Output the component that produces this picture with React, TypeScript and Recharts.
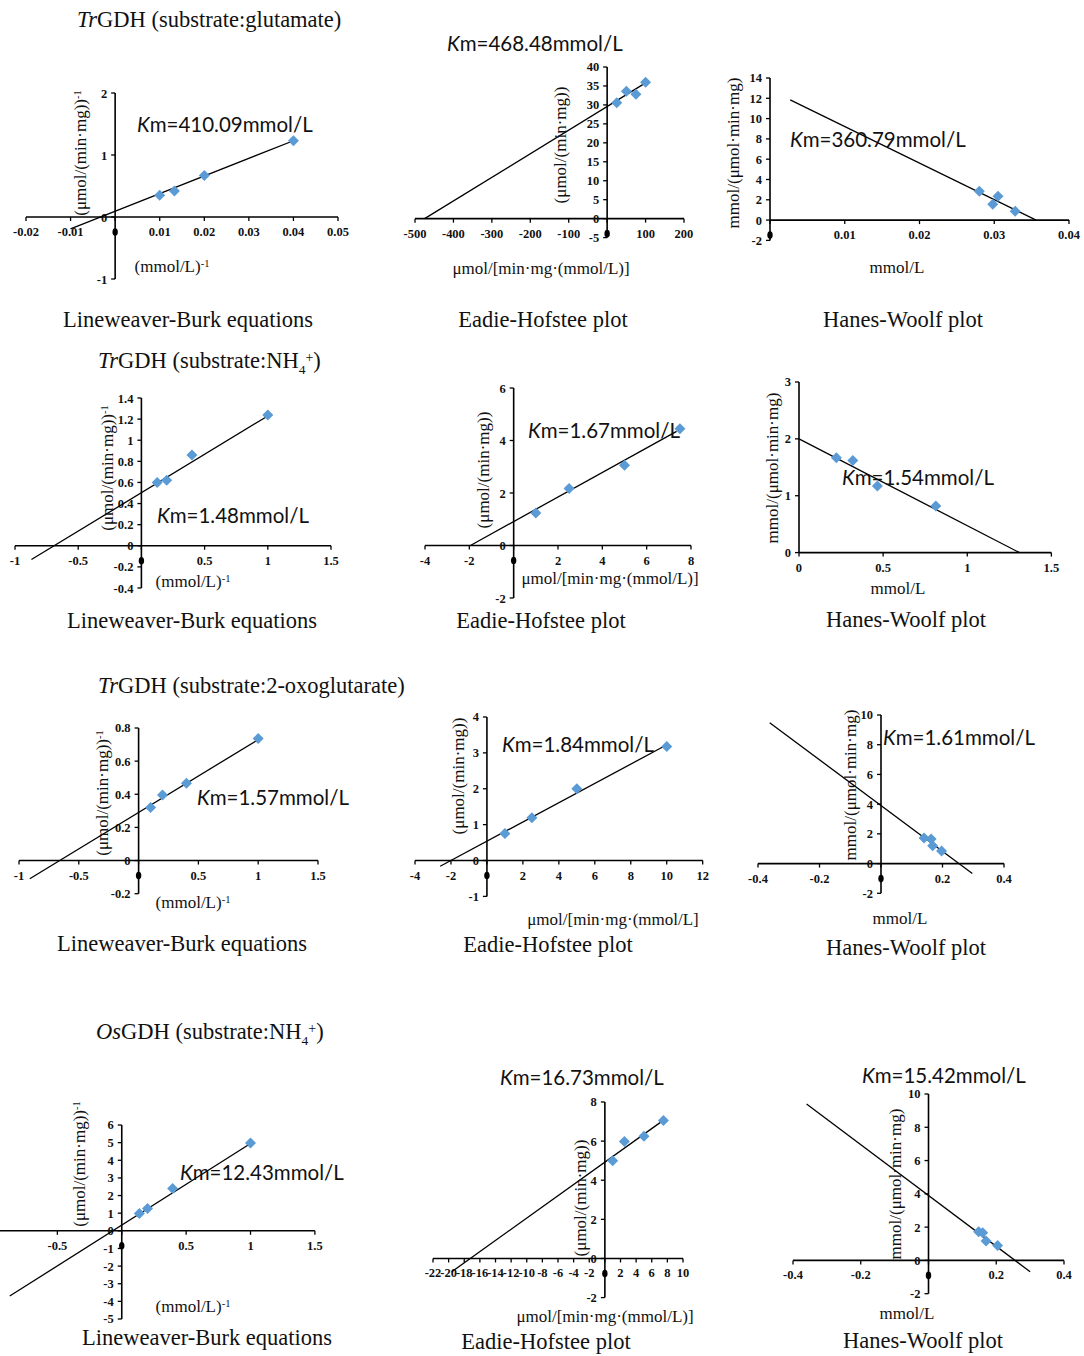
import { ScatterChart, Scatter, XAxis, YAxis, ReferenceLine, ReferenceDot } from "recharts";

const BLUE = "#5B9BD5";
const SERIF = '"Liberation Serif", "Times New Roman", serif';
const SANS = 'Lato, "Open Sans", sans-serif';

type Pt = { x: number; y: number };
type Box = { x0: number; x1: number; yt: number; yb: number };

// TrGDH, glutamate
const lbGluPts = [{ x: 0.01, y: 0.35 }, { x: 0.0133, y: 0.42 }, { x: 0.02, y: 0.67 }, { x: 0.04, y: 1.23 }];
const lbGluFit = [{ x: -0.01, y: -0.19 }, { x: 0.04, y: 1.23 }];
const lbGluX = [-0.02, -0.01, 0, 0.01, 0.02, 0.03, 0.04, 0.05];
const lbGluY = [-1, 0, 1, 2];

const ehGluPts = [{ x: 25, y: 30.6 }, { x: 50, y: 33.6 }, { x: 75, y: 32.8 }, { x: 100, y: 36 }];
const ehGluFit = [{ x: -475, y: 0 }, { x: 100, y: 35.8 }];
const ehGluX = [-500, -400, -300, -200, -100, 0, 100, 200];
const ehGluY = [-5, 0, 5, 10, 15, 20, 25, 30, 35, 40];

const hwGluPts = [{ x: 0.028, y: 2.85 }, { x: 0.0298, y: 1.55 }, { x: 0.0305, y: 2.35 }, { x: 0.0328, y: 0.88 }];
const hwGluFit = [{ x: 0.0027, y: 11.85 }, { x: 0.0356, y: 0 }];
const hwGluX = [0, 0.01, 0.02, 0.03, 0.04];
const hwGluY = [-2, 0, 2, 4, 6, 8, 10, 12, 14];

// TrGDH, NH4+
const lbNhPts = [{ x: 0.125, y: 0.6 }, { x: 0.2, y: 0.62 }, { x: 0.4, y: 0.86 }, { x: 1, y: 1.24 }];
const lbNhFit = [{ x: -0.87, y: -0.13 }, { x: 1, y: 1.23 }];
const lbNhX = [-1, -0.5, 0, 0.5, 1, 1.5];
const lbNhY = [-0.4, -0.2, 0, 0.2, 0.4, 0.6, 0.8, 1, 1.2, 1.4];

const ehNhPts = [{ x: 1, y: 1.24 }, { x: 2.5, y: 2.17 }, { x: 5, y: 3.06 }, { x: 7.5, y: 4.45 }];
const ehNhFit = [{ x: -1.95, y: 0 }, { x: 7.35, y: 4.35 }];
const ehNhX = [-4, -2, 0, 2, 4, 6, 8];
const ehNhY = [-2, 0, 2, 4, 6];

const hwNhPts = [{ x: 0.222, y: 1.67 }, { x: 0.32, y: 1.62 }, { x: 0.466, y: 1.17 }, { x: 0.813, y: 0.82 }];
const hwNhFit = [{ x: 0, y: 2.0 }, { x: 1.31, y: 0 }];
const hwNhX = [0, 0.5, 1, 1.5];
const hwNhY = [0, 1, 2, 3];

// TrGDH, 2-oxoglutarate
const lbOxoPts = [{ x: 0.1, y: 0.32 }, { x: 0.2, y: 0.396 }, { x: 0.4, y: 0.466 }, { x: 1, y: 0.736 }];
const lbOxoFit = [{ x: -0.91, y: -0.11 }, { x: 1, y: 0.73 }];
const lbOxoX = [-1, -0.5, 0, 0.5, 1, 1.5];
const lbOxoY = [-0.2, 0, 0.2, 0.4, 0.6, 0.8];

const ehOxoPts = [{ x: 1, y: 0.75 }, { x: 2.5, y: 1.19 }, { x: 5, y: 2.0 }, { x: 10, y: 3.18 }];
const ehOxoFit = [{ x: -2.6, y: -0.16 }, { x: 9.8, y: 3.17 }];
const ehOxoX = [-4, -2, 0, 2, 4, 6, 8, 10, 12];
const ehOxoY = [-1, 0, 1, 2, 3, 4];

const hwOxoPts = [{ x: 0.14, y: 1.72 }, { x: 0.163, y: 1.66 }, { x: 0.168, y: 1.2 }, { x: 0.197, y: 0.85 }];
const hwOxoFit = [{ x: -0.362, y: 9.48 }, { x: 0.297, y: -0.67 }];
const hwOxoX = [-0.4, -0.2, 0, 0.2, 0.4];
const hwOxoY = [-2, 0, 2, 4, 6, 8, 10];

// OsGDH, NH4+ (x axis runs from -1, cut off at the page edge)
const osLbPts = [{ x: 0.137, y: 0.98 }, { x: 0.2, y: 1.26 }, { x: 0.395, y: 2.4 }, { x: 1, y: 4.98 }];
const osLbFit = [{ x: -0.87, y: -3.7 }, { x: 1, y: 4.95 }];
const osLbX = [-0.5, 0, 0.5, 1, 1.5];
const osLbY = [-5, -4, -3, -2, -1, 0, 1, 2, 3, 4, 5, 6];

const osEhPts = [{ x: 1, y: 5.0 }, { x: 2.5, y: 5.98 }, { x: 5, y: 6.25 }, { x: 7.5, y: 7.06 }];
const osEhFit = [{ x: -19.6, y: -0.68 }, { x: 7.6, y: 7.1 }];
const osEhX = [-22, -20, -18, -16, -14, -12, -10, -8, -6, -4, -2, 0, 2, 4, 6, 8, 10];
const osEhY = [-2, 0, 2, 4, 6, 8];

const osHwPts = [{ x: 0.148, y: 1.72 }, { x: 0.16, y: 1.66 }, { x: 0.17, y: 1.16 }, { x: 0.204, y: 0.9 }];
const osHwFit = [{ x: -0.36, y: 9.4 }, { x: 0.3, y: -0.68 }];
const osHwX = [-0.4, -0.2, 0, 0.2, 0.4];
const osHwY = [-2, 0, 2, 4, 6, 8, 10];

interface PanelDef { pts: Pt[]; fit: Pt[]; xTicks: number[]; yTicks: number[]; box: Box; xMin?: number }

const panels: PanelDef[] = [
  { pts: lbGluPts, fit: lbGluFit, xTicks: lbGluX, yTicks: lbGluY, box: { x0: 26, x1: 338, yt: 93.3, yb: 279.3 } },
  { pts: ehGluPts, fit: ehGluFit, xTicks: ehGluX, yTicks: ehGluY, box: { x0: 415, x1: 684, yt: 66.7, yb: 237.3 } },
  { pts: hwGluPts, fit: hwGluFit, xTicks: hwGluX, yTicks: hwGluY, box: { x0: 770, x1: 1069, yt: 78.3, yb: 240.7 } },
  { pts: lbNhPts, fit: lbNhFit, xTicks: lbNhX, yTicks: lbNhY, box: { x0: 15, x1: 331, yt: 398.3, yb: 588.3 } },
  { pts: ehNhPts, fit: ehNhFit, xTicks: ehNhX, yTicks: ehNhY, box: { x0: 425, x1: 691, yt: 388.3, yb: 598.3 } },
  { pts: hwNhPts, fit: hwNhFit, xTicks: hwNhX, yTicks: hwNhY, box: { x0: 799.3, x1: 1051.7, yt: 381.7, yb: 552.3 } },
  { pts: lbOxoPts, fit: lbOxoFit, xTicks: lbOxoX, yTicks: lbOxoY, box: { x0: 19.3, x1: 318.3, yt: 728.3, yb: 894 } },
  { pts: ehOxoPts, fit: ehOxoFit, xTicks: ehOxoX, yTicks: ehOxoY, box: { x0: 415, x1: 702.7, yt: 717.3, yb: 896.7 } },
  { pts: hwOxoPts, fit: hwOxoFit, xTicks: hwOxoX, yTicks: hwOxoY, box: { x0: 758.3, x1: 1004.3, yt: 715, yb: 893.3 } },
  { pts: osLbPts, fit: osLbFit, xTicks: osLbX, yTicks: osLbY, xMin: -1, box: { x0: -6.9, x1: 315, yt: 1125, yb: 1319 } },
  { pts: osEhPts, fit: osEhFit, xTicks: osEhX, yTicks: osEhY, box: { x0: 433.3, x1: 683.3, yt: 1101.7, yb: 1297.3 } },
  { pts: osHwPts, fit: osHwFit, xTicks: osHwX, yTicks: osHwY, box: { x0: 793.3, x1: 1064.3, yt: 1094.3, yb: 1294 } },
];

const tickText = { fontSize: 12.5, fontWeight: 700, fontFamily: SERIF, fill: "#111" } as const;

function Diamond(p: any) {
  const { cx, cy } = p;
  const s = 5.5;
  return <polygon points={`${cx},${cy - s} ${cx + s},${cy} ${cx},${cy + s} ${cx - s},${cy}`} fill={BLUE} />;
}

function Panel({ pts, fit, xTicks, yTicks, box, xMin }: PanelDef) {
  const M = 30;
  const w = box.x1 - box.x0 + 2 * M;
  const h = box.yb - box.yt + 2 * M;
  const xDom = [xMin ?? xTicks[0], xTicks[xTicks.length - 1]];
  const yDom = [yTicks[0], yTicks[yTicks.length - 1]];
  const zeroDot = yTicks[0] < 0;
  return (
    <div style={{ position: "absolute", left: box.x0 - M, top: box.yt - M }}>
      <ScatterChart width={w} height={h} margin={{ top: M, right: M, bottom: M, left: M }}>
        <XAxis type="number" dataKey="x" domain={xDom} hide allowDataOverflow />
        <YAxis type="number" dataKey="y" domain={yDom} hide allowDataOverflow />
        <ReferenceLine y={0} stroke="#000" strokeWidth={1.6} />
        <ReferenceLine x={0} stroke="#000" strokeWidth={1.6} />
        {xTicks.map((t) => (
          <ReferenceDot key={"x" + t} x={t} y={0} r={0} shape={(p: any) => (
            <g>
              <line x1={p.cx} y1={p.cy} x2={p.cx} y2={p.cy + 4} stroke="#000" strokeWidth={1.3} />
              {t === 0 && zeroDot
                ? <ellipse cx={p.cx} cy={p.cy + 15} rx={2.7} ry={3.8} fill="#000" />
                : <text x={p.cx} y={p.cy + 19} textAnchor="middle" {...tickText}>{String(t)}</text>}
            </g>
          )} />
        ))}
        {yTicks.map((t) => (
          <ReferenceDot key={"y" + t} x={0} y={t} r={0} shape={(p: any) => (
            <g>
              <line x1={p.cx - 4} y1={p.cy} x2={p.cx} y2={p.cy} stroke="#000" strokeWidth={1.3} />
              <text x={p.cx - 8} y={p.cy + 4.5} textAnchor="end" {...tickText}>{String(t)}</text>
            </g>
          )} />
        ))}
        <Scatter data={fit} line={{ stroke: "#000", strokeWidth: 1.3 }} shape={() => <g />} isAnimationActive={false} />
        <Scatter data={pts} shape={Diamond} isAnimationActive={false} />
      </ScatterChart>
    </div>
  );
}

function Txt({ x, y, size = 17, align = "center", font = SERIF, rot = false, children }: any) {
  const tx = align === "center" ? "-50%" : "0";
  return (
    <div style={{
      position: "absolute", left: x, top: y, fontSize: size, fontFamily: font, color: "#111",
      lineHeight: 1, whiteSpace: "nowrap",
      transform: `translate(${tx}, -50%)${rot ? " rotate(-90deg)" : ""}`,
    }}>{children}</div>
  );
}

const sup = (s: string) => <sup style={{ fontSize: "0.62em", verticalAlign: "0.45em" }}>{s}</sup>;
const inv = (s: string) => <>{s}{sup("-1")}</>;

const kmLabels: [number, number, string][] = [
  [137, 124, "410.09"], [447, 43, "468.48"], [790, 139, "360.79"],
  [157, 515, "1.48"], [528, 430, "1.67"], [842, 477, "1.54"],
  [197, 797, "1.57"], [502, 744, "1.84"], [883, 737, "1.61"],
  [180, 1172, "12.43"], [500, 1077, "16.73"], [862, 1075, "15.42"],
];

const captions: [number, number, string][] = [
  [188, 320, "Lineweaver-Burk equations"], [543, 320, "Eadie-Hofstee plot"], [903, 320, "Hanes-Woolf plot"],
  [192, 621, "Lineweaver-Burk equations"], [541, 621, "Eadie-Hofstee plot"], [906, 620, "Hanes-Woolf plot"],
  [182, 944, "Lineweaver-Burk equations"], [548, 945, "Eadie-Hofstee plot"], [906, 948, "Hanes-Woolf plot"],
  [207, 1338, "Lineweaver-Burk equations"], [546, 1342, "Eadie-Hofstee plot"], [923, 1341, "Hanes-Woolf plot"],
];

const LB_Y = "(μmol/(min·mg))";
const EH_X = "μmol/[min·mg·(mmol/L)]";
const HW_Y = "mmol/(μmol·min·mg)";

export default function App() {
  return (
    <div style={{ position: "absolute", left: 0, top: 0, width: 1084, height: 1356, overflow: "hidden", background: "#fff" }}>
      {panels.map((p, i) => <Panel key={i} {...p} />)}

      {/* titles */}
      <Txt x={77} y={20} size={22.5} align="left"><i>Tr</i>GDH (substrate:glutamate)</Txt>
      <Txt x={98} y={363} size={22.5} align="left"><i>Tr</i>GDH (substrate:NH<sub style={{ fontSize: "0.6em" }}>4</sub>{sup("+")})</Txt>
      <Txt x={98} y={686} size={22.5} align="left"><i>Tr</i>GDH (substrate:2-oxoglutarate)</Txt>
      <Txt x={96} y={1034} size={22.5} align="left"><i>Os</i>GDH (substrate:NH<sub style={{ fontSize: "0.6em" }}>4</sub>{sup("+")})</Txt>

      {/* Km annotations */}
      {kmLabels.map(([x, y, v], i) => (
        <Txt key={"km" + i} x={x} y={y} size={20.5} align="left" font={SANS}><i>K</i>m={v}mmol/L</Txt>
      ))}

      {/* x-axis titles */}
      <Txt x={172} y={266}>{inv("(mmol/L)")}</Txt>
      <Txt x={541} y={268}>{EH_X}</Txt>
      <Txt x={897} y={267}>mmol/L</Txt>
      <Txt x={193} y={581}>{inv("(mmol/L)")}</Txt>
      <Txt x={610} y={578}>{EH_X}</Txt>
      <Txt x={898} y={588}>mmol/L</Txt>
      <Txt x={193} y={902}>{inv("(mmol/L)")}</Txt>
      <Txt x={613} y={919}>μmol/[min·mg·(mmol/L]</Txt>
      <Txt x={900} y={918}>mmol/L</Txt>
      <Txt x={193} y={1306}>{inv("(mmol/L)")}</Txt>
      <Txt x={605} y={1316}>{EH_X}</Txt>
      <Txt x={907} y={1313}>mmol/L</Txt>

      {/* y-axis titles */}
      <Txt x={80} y={153} rot>{inv(LB_Y)}</Txt>
      <Txt x={560} y={145} rot>{LB_Y}</Txt>
      <Txt x={733} y={153} rot>{HW_Y}</Txt>
      <Txt x={107} y={468} rot>{inv(LB_Y)}</Txt>
      <Txt x={483} y={470} rot>{LB_Y}</Txt>
      <Txt x={772} y={468} rot>{HW_Y}</Txt>
      <Txt x={102} y={793} rot>{inv(LB_Y)}</Txt>
      <Txt x={458} y={776} rot>{LB_Y}</Txt>
      <Txt x={850} y={785} rot>{HW_Y}</Txt>
      <Txt x={79} y={1164} rot>{inv(LB_Y)}</Txt>
      <Txt x={580} y={1198} rot>{LB_Y}</Txt>
      <Txt x={895} y={1184} rot>{HW_Y}</Txt>

      {/* captions */}
      {captions.map(([x, y, s], i) => <Txt key={"c" + i} x={x} y={y} size={22.5}>{s}</Txt>)}
    </div>
  );
}
